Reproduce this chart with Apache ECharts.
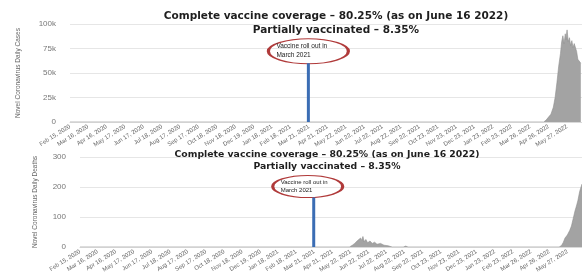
<!DOCTYPE html>
<html>
<head>
<meta charset="utf-8">
<script src="https://cdn.jsdelivr.net/npm/echarts@6/dist/echarts.min.js"></script>
<style>
  html, body { margin: 0; background: #fff; }
  #chart { width: 582px; height: 276px; }
</style>
</head>
<body>
<div id="chart"></div>
<script>
// x tick labels (same on both panels)
var tickDates = [
  "2020-02-15", "2020-03-16", "2020-04-16", "2020-05-17", "2020-06-17", "2020-07-18",
  "2020-08-17", "2020-09-17", "2020-10-18", "2020-11-18", "2020-12-19", "2021-01-18",
  "2021-02-18", "2021-03-21", "2021-04-21", "2021-05-22", "2021-06-22", "2021-07-22",
  "2021-08-22", "2021-09-22", "2021-10-23", "2021-11-23", "2021-12-23", "2022-01-23",
  "2022-02-23", "2022-03-26", "2022-04-26", "2022-05-27"
];
var axisStart = "2020-02-15";
var axisEnd = "2022-06-21";

// daily cases
var caseDates = [
  "2020-02-15", "2022-04-18", "2022-04-22", "2022-04-26", "2022-04-30", "2022-05-04",
  "2022-05-07", "2022-05-10", "2022-05-13", "2022-05-16", "2022-05-18", "2022-05-20",
  "2022-05-22", "2022-05-24", "2022-05-25", "2022-05-27", "2022-05-29", "2022-05-31",
  "2022-06-02", "2022-06-04", "2022-06-06", "2022-06-08", "2022-06-10", "2022-06-12",
  "2022-06-14", "2022-06-16", "2022-06-19"
];
var caseValues = [
  0, 0, 2000, 5000, 8000, 15000,
  25000, 40000, 57000, 70000, 82000, 88000,
  80000, 90000, 84000, 94000, 82000, 86000,
  78000, 83000, 76000, 80000, 79000, 72000,
  64000, 62000, 60000
];

// daily deaths
var deathDates = [
  "2020-02-15", "2021-05-20", "2021-05-25", "2021-05-29", "2021-06-02", "2021-06-05",
  "2021-06-08", "2021-06-10", "2021-06-12", "2021-06-14", "2021-06-17", "2021-06-20",
  "2021-06-24", "2021-06-28", "2021-07-02", "2021-07-06", "2021-07-12", "2021-07-18",
  "2021-07-25", "2021-08-01", "2021-08-20", "2021-08-24", "2021-08-28", "2022-05-13",
  "2022-05-17", "2022-05-20", "2022-05-23", "2022-05-27", "2022-05-31", "2022-06-03",
  "2022-06-06", "2022-06-09", "2022-06-12", "2022-06-14", "2022-06-17", "2022-06-21"
];
var deathValues = [
  0, 0, 6, 12, 20, 15,
  30, 22, 35, 18, 25, 14,
  20, 12, 16, 9, 12, 6,
  4, 0, 0, 3, 0, 0,
  5, 15, 30, 40, 55, 70,
  95, 120, 140, 155, 185, 210
];

var rolloutDate = "2021-03-20";
var rolloutTop = [60000, 165]; // height of the blue marker in each panel

var titleLine1 = "Complete vaccine coverage \u2013 80.25% (as on June 16 2022)";
var titleLine2 = "Partially vaccinated \u2013 8.35%";

var FONT = "Liberation Sans";
var TITLE_FONT = "DejaVu Sans";
var MONTHS = ["Jan", "Feb", "Mar", "Apr", "May", "Jun", "Jul", "Aug", "Sep", "Oct", "Nov", "Dec"];
var DAY = 86400000;

// date string -> day number counted from axisStart
function day(s) {
  var a = s.split("-"), b = axisStart.split("-");
  return Math.round((Date.UTC(+a[0], a[1] - 1, +a[2]) - Date.UTC(+b[0], b[1] - 1, +b[2])) / DAY);
}
function pairs(dates, values) {
  return dates.map(function (d, i) { return [day(d), values[i]]; });
}
function fmtDay(v) {
  var b = axisStart.split("-");
  var d = new Date(Date.UTC(+b[0], b[1] - 1, +b[2]) + Math.round(v) * DAY);
  return MONTHS[d.getUTCMonth()] + " " + d.getUTCDate() + ", " + d.getUTCFullYear();
}

var chart = echarts.init(document.getElementById("chart"));

function xAxis(gi) {
  return {
    type: "value",
    gridIndex: gi,
    min: 0,
    max: day(axisEnd),
    axisLine: { show: true, lineStyle: { color: "#d9d9d9" } },
    axisTick: { show: false },
    splitLine: { show: false },
    axisLabel: {
      customValues: tickDates.map(day),
      formatter: fmtDay,
      rotate: 32,
      margin: 4,
      fontSize: 6,
      color: "#666",
      fontFamily: FONT
    }
  };
}

function yAxis(gi, max, interval, name, gap, fmt) {
  return {
    type: "value",
    gridIndex: gi,
    min: 0,
    max: max,
    interval: interval,
    name: name,
    nameLocation: "middle",
    nameGap: gap,
    nameRotate: 90,
    nameTextStyle: { fontSize: 6.5, color: "#666", fontFamily: FONT },
    axisLine: { show: false },
    axisTick: { show: false },
    splitLine: { lineStyle: { color: "#e6e6e6", width: 1 } },
    axisLabel: { fontSize: 8, color: "#777", margin: 14, fontFamily: FONT, formatter: fmt }
  };
}

function rollout(xi, top, off, size, fs) {
  return {
    type: "line",
    xAxisIndex: xi,
    yAxisIndex: xi,
    data: [[day(rolloutDate), 0], [day(rolloutDate), top]],
    symbol: "none",
    lineStyle: { color: "#3b6db4", width: 3 },
    z: 5,
    silent: true,
    markPoint: {
      silent: true,
      symbol: "circle",
      symbolSize: size,
      symbolOffset: off,
      itemStyle: { color: "rgba(255,255,255,0)", borderColor: "#b03a3a", borderWidth: 1.8 },
      label: {
        show: true,
        formatter: "Vaccine roll out in\nMarch 2021",
        fontSize: fs,
        lineHeight: fs + 2.5,
        align: "left",
        offset: [-size[0] / 2 + 8, 0],
        color: "#222",
        fontFamily: FONT
      },
      data: [{ coord: [day(rolloutDate), top] }]
    }
  };
}

function area(xi, dates, values) {
  return {
    type: "line",
    xAxisIndex: xi,
    yAxisIndex: xi,
    data: pairs(dates, values),
    symbol: "none",
    lineStyle: { color: "#8f8f8f", width: 0.6 },
    areaStyle: { color: "#a3a3a3", opacity: 1 },
    z: 2,
    silent: true
  };
}

chart.setOption({
  animation: false,
  backgroundColor: "#fff",
  title: [
    {
      text: titleLine1 + "\n" + titleLine2,
      left: 331,
      top: 4,
      textAlign: "center",
      textStyle: { fontSize: 10.5, fontWeight: "bold", color: "#1e1e1e", lineHeight: 14, fontFamily: TITLE_FONT }
    },
    {
      text: titleLine1 + "\n" + titleLine2,
      left: 322,
      top: 144,
      textAlign: "center",
      textStyle: { fontSize: 9.3, fontWeight: "bold", color: "#1e1e1e", lineHeight: 12, fontFamily: TITLE_FONT }
    }
  ],
  grid: [
    { left: 70, right: 0, top: 24, height: 98 },
    { left: 80, right: 0, top: 157, height: 90 }
  ],
  xAxis: [xAxis(0), xAxis(1)],
  yAxis: [
    yAxis(0, 100000, 25000, "Novel Coronavirus Daily Cases", 48, function (v) {
      return v === 0 ? "0" : v / 1000 + "k";
    }),
    yAxis(1, 300, 100, "Novel Coronavirus Daily Deaths", 41)
  ],
  series: [
    area(0, caseDates, caseValues),
    area(1, deathDates, deathValues),
    rollout(0, rolloutTop[0], [0, -12], [80, 25], 6.5),
    rollout(1, rolloutTop[1], [-6, -11], [70, 22], 6)
  ]
});
</script>
</body>
</html>
